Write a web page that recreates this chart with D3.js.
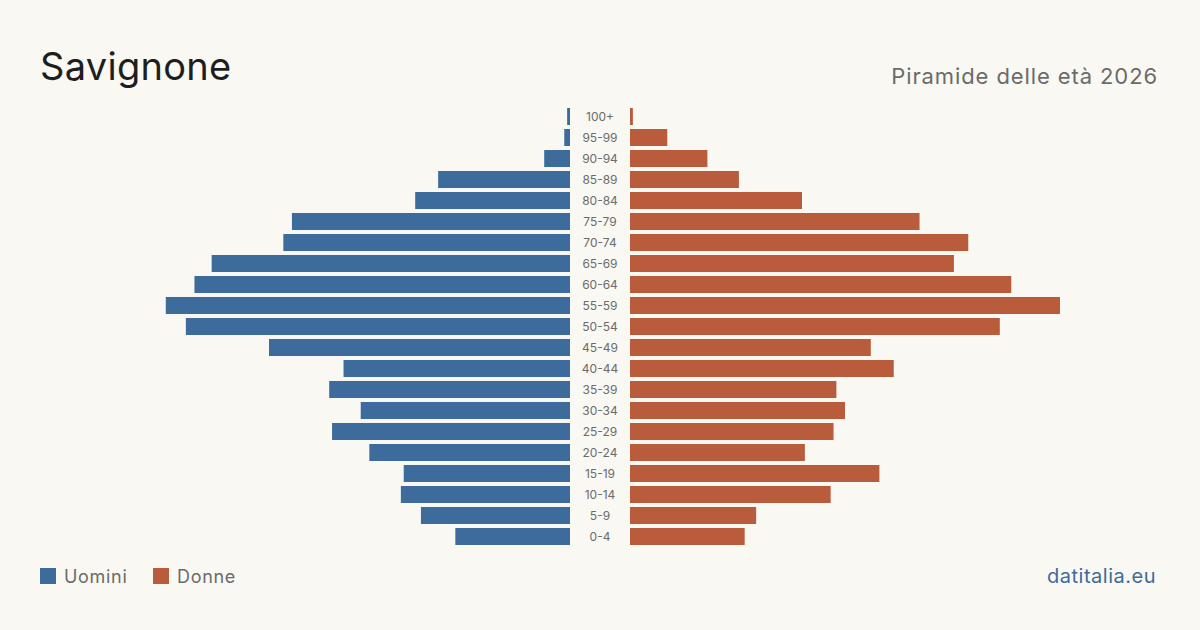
<!DOCTYPE html>
<html>
<head>
<meta charset="utf-8">
<script src="https://cdn.jsdelivr.net/npm/d3@7"></script>
<style>
body{margin:0;background:#f9f8f3;}
svg{display:block;font-family:Inter,"Noto Sans",sans-serif;}
</style>
</head>
<body>
<script>
// fasce d'età, dall'alto verso il basso
const ages=["100+","95-99","90-94","85-89","80-84","75-79","70-74","65-69","60-64","55-59","50-54","45-49","40-44","35-39","30-34","25-29","20-24","15-19","10-14","5-9","0-4"]
const uomini=[1,2,9,46,54,97,100,125,131,141,134,105,79,84,73,83,70,58,59,52,40]
const donne=[1,13,27,38,60,101,118,113,133,150,129,84,92,72,75,71,61,87,70,44,40]

const W=1200,H=630
const c_men="#3d6b9b",c_women="#b85c3c"

const svg=d3.select("body").append("svg")
	.attr("width",W)
	.attr("height",H)
svg.append("rect").attr("width",W).attr("height",H).attr("fill","#f9f8f3")

const maxv=d3.max(uomini.concat(donne))
const xl=d3.scaleLinear().domain([0,maxv]).range([570,140])
const xr=d3.scaleLinear().domain([0,maxv]).range([630,1060])
const y=d3.scaleBand().domain(ages).range([108,545]).paddingInner(0.19).paddingOuter(0)

svg.append("g").selectAll("rect").data(ages).enter().append("rect")
	.attr("x",(d,i)=>xl(uomini[i]))
	.attr("y",d=>y(d))
	.attr("width",(d,i)=>xl(0)-xl(uomini[i]))
	.attr("height",y.bandwidth())
	.attr("fill",c_men)

svg.append("g").selectAll("rect").data(ages).enter().append("rect")
	.attr("x",xr(0))
	.attr("y",d=>y(d))
	.attr("width",(d,i)=>xr(donne[i])-xr(0))
	.attr("height",y.bandwidth())
	.attr("fill",c_women)

svg.append("g").selectAll("text").data(ages).enter().append("text")
	.attr("x",600)
	.attr("y",d=>y(d)+y.bandwidth()/2)
	.attr("dy","0.35em")
	.attr("text-anchor","middle")
	.attr("font-size",12)
	.attr("fill","#6b6b6b")
	.text(d=>d)

// titoli
svg.append("text").attr("x",40).attr("y",80)
	.attr("font-size",38).attr("fill","#1e1e1e").attr("letter-spacing",0.3).text("Savignone")
svg.append("text").attr("x",1158).attr("y",84)
	.attr("text-anchor","end").attr("font-size",22).attr("fill","#6b6b6b")
	.attr("letter-spacing",0.9)
	.text("Piramide delle età 2026")

// legenda
const legend=[{name:"Uomini",color:c_men,x:40},{name:"Donne",color:c_women,x:153}]
const lg=svg.append("g").selectAll("g").data(legend).enter().append("g")
lg.append("rect").attr("x",d=>d.x).attr("y",568).attr("width",16).attr("height",16).attr("fill",d=>d.color)
lg.append("text").attr("x",d=>d.x+24).attr("y",583).attr("font-size",18).attr("fill","#6b6b6b")
	.attr("letter-spacing",0.7).text(d=>d.name)

svg.append("text").attr("x",1156).attr("y",583)
	.attr("text-anchor","end").attr("font-size",20).attr("fill","#3d6b9b")
	.attr("letter-spacing",0.5)
	.text("datitalia.eu")
</script>
</body>
</html>
